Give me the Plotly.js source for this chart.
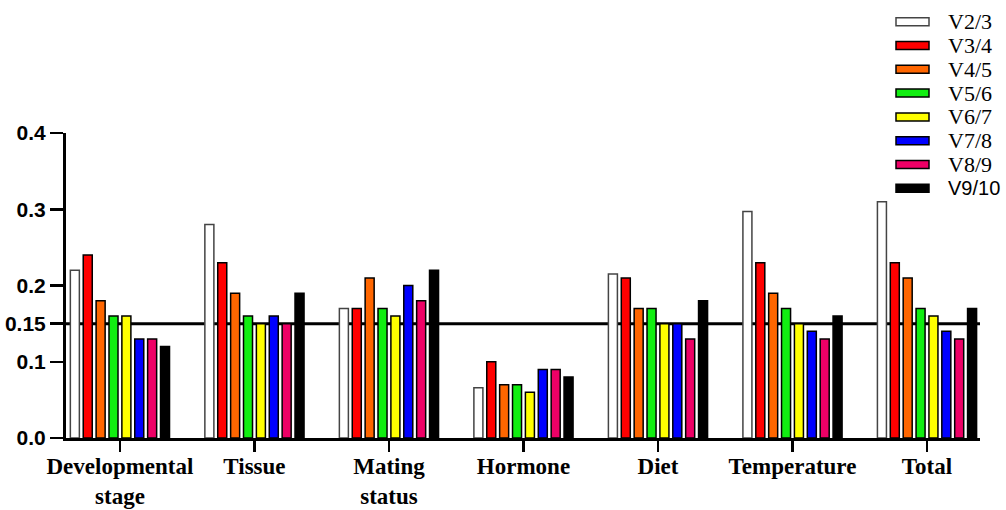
<!DOCTYPE html>
<html>
<head>
<meta charset="utf-8">
<script src="https://cdn.plot.ly/plotly-3.0.1.min.js"></script>
<style>
  html, body { margin: 0; padding: 0; background: #ffffff; }
  #chart { width: 1006px; height: 510px; }
</style>
</head>
<body>
<div id="chart"></div>
<script>
// Factor groups on the x axis
const categories = ['Developmental<br>stage', 'Tissue', 'Mating<br>status', 'Hormone', 'Diet', 'Temperature', 'Total'];

// Pairwise variation values for each series
const v2_3  = [0.22, 0.28, 0.17, 0.066, 0.215, 0.297, 0.31];
const v3_4  = [0.24, 0.23, 0.17, 0.10, 0.21, 0.23, 0.23];
const v4_5  = [0.18, 0.19, 0.21, 0.07, 0.17, 0.19, 0.21];
const v5_6  = [0.16, 0.16, 0.17, 0.07, 0.17, 0.17, 0.17];
const v6_7  = [0.16, 0.15, 0.16, 0.06, 0.15, 0.15, 0.16];
const v7_8  = [0.13, 0.16, 0.20, 0.09, 0.15, 0.14, 0.14];
const v8_9  = [0.13, 0.15, 0.18, 0.09, 0.13, 0.13, 0.13];
const v9_10 = [0.12, 0.19, 0.22, 0.08, 0.18, 0.16, 0.17];

const seriesNames  = ['V2/3', 'V3/4', 'V4/5', 'V5/6', 'V6/7', 'V7/8', 'V8/9', 'V9/10'];
const seriesValues = [v2_3, v3_4, v4_5, v5_6, v6_7, v7_8, v8_9, v9_10];
const seriesColors = ['#ffffff', '#ff0000', '#ff6600', '#11ee11', '#ffff00', '#0000ff', '#ee0066', '#000000'];

// Cut-off value drawn as a horizontal reference line
const cutoff = 0.15;

// Y tick labels
const yTickVals = [0, 0.1, 0.15, 0.2, 0.3, 0.4];
const yTickText = ['0.0', '0.1', '0.15', '0.2', '0.3', '0.4'];

const traces = seriesNames.map((name, i) => ({
  type: 'bar',
  name: name,
  x: categories,
  y: seriesValues[i],
  marker: {
    color: seriesColors[i],
    line: { color: i === 0 ? '#444444' : '#000000', width: 1.5 }
  },
  hoverinfo: 'x+y+name'
}));

// Plot area geometry in pixels (used to place the hand-built legend)
const W = 1006, H = 510;
const margin = { l: 66, r: 26, t: 133, b: 72 };
const plotW = W - margin.l - margin.r;
const plotH = H - margin.t - margin.b;
const px2x = px => (px - margin.l) / plotW;
const py2y = py => (H - margin.b - py) / plotH;

const shapes = [{
  type: 'line', xref: 'paper', yref: 'y',
  x0: 0, x1: 1, y0: cutoff, y1: cutoff,
  line: { color: '#000000', width: 3 },
  layer: 'below'
}];
const annotations = [];

// Legend: wide swatches with labels, top right corner
seriesNames.forEach((name, i) => {
  const cy = 21.7 + 23.8 * i;
  shapes.push({
    type: 'rect', xref: 'paper', yref: 'paper',
    x0: px2x(896), x1: px2x(929),
    y0: py2y(cy + 4), y1: py2y(cy - 4),
    fillcolor: seriesColors[i],
    line: { color: i === 0 ? '#444444' : '#000000', width: 1.5 }
  });
  const isLast = i === seriesNames.length - 1;
  annotations.push({
    xref: 'paper', yref: 'paper',
    x: px2x(946), y: py2y(cy),
    xanchor: 'left', yanchor: 'middle',
    text: name, showarrow: false,
    font: isLast
      ? { family: 'Liberation Sans, Arial, sans-serif', size: 20, color: '#000000' }
      : { family: 'Liberation Serif, Times New Roman, serif', size: 22, color: '#000000' }
  });
});

const layout = {
  width: W, height: H,
  margin: margin,
  paper_bgcolor: '#ffffff',
  plot_bgcolor: '#ffffff',
  showlegend: false,
  barmode: 'group',
  bargap: 0.234,
  bargroupgap: 0.3,
  xaxis: {
    type: 'category',
    range: [-0.401, 6.394],
    showline: true, linecolor: '#000000', linewidth: 3,
    ticks: 'outside', ticklen: 11, tickwidth: 2.5, tickcolor: '#000000',
    ticklabelstandoff: -6,
    showgrid: false, zeroline: false,
    tickfont: { family: 'Liberation Serif, Times New Roman, serif', size: 23, color: '#000000', weight: 'bold' }
  },
  yaxis: {
    range: [0, 0.4],
    showline: true, linecolor: '#000000', linewidth: 3,
    ticks: 'outside', ticklen: 13, tickwidth: 2.5, tickcolor: '#000000',
    tickvals: yTickVals, ticktext: yTickText,
    showgrid: false, zeroline: false,
    tickfont: { family: 'Liberation Sans, Arial, sans-serif', size: 21, color: '#000000', weight: 'bold' }
  },
  shapes: shapes,
  annotations: annotations
};

Plotly.newPlot('chart', traces, layout, { displayModeBar: false, staticPlot: true });
</script>
</body>
</html>
